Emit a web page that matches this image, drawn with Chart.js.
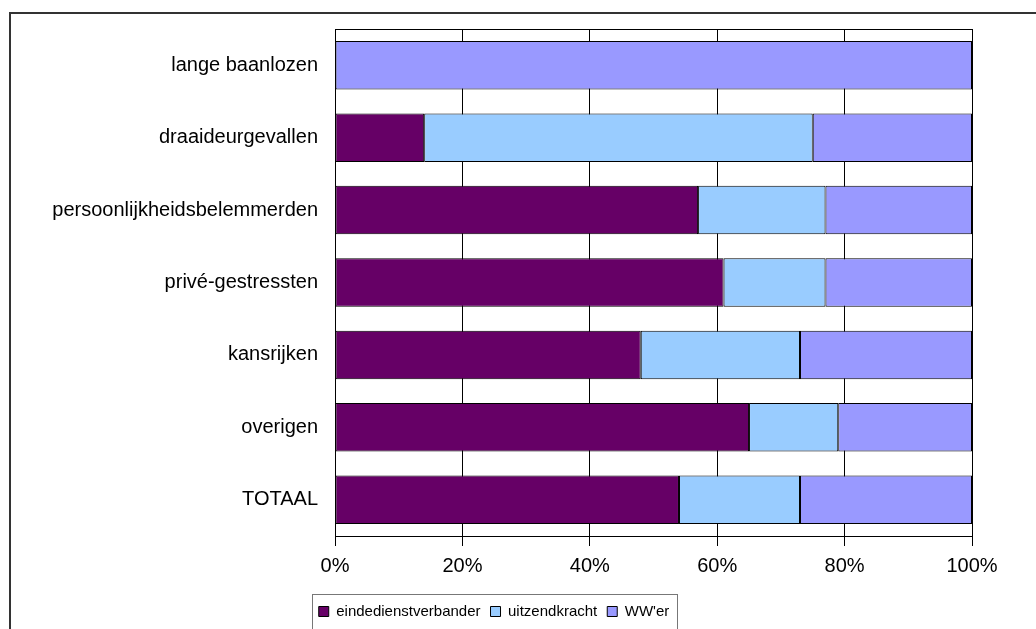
<!DOCTYPE html>
<html>
<head>
<meta charset="utf-8">
<script src="https://cdn.jsdelivr.net/npm/chart.js@4.4.1/dist/chart.umd.min.js"></script>
<style>
    html, body { margin: 0; padding: 0; background: #fff; overflow: hidden; }
    #frame { position: absolute; left: 9px; top: 12px; width: 1100px; height: 700px; border: 1px solid #333; border-width: 2px 0 0 2px; }
    #box { position: absolute; left: 0; top: 0; width: 1036px; height: 629px; }
</style>
</head>
<body>
<div id="frame"></div>
<div id="box"><canvas id="myGraph"></canvas></div>
<script>
// categorieën en aandelen (%)
const categorieen = ['lange baanlozen', 'draaideurgevallen', 'persoonlijkheidsbelemmerden', 'privé-gestressten', 'kansrijken', 'overigen', 'TOTAAL'];
const eindedienstverbander = [0, 14, 57, 61, 48, 65, 54];
const uitzendkracht = [0, 61, 20, 16, 25, 14, 19];
const wwer = [100, 25, 23, 23, 27, 21, 27];
const xTicks = [0, 20, 40, 60, 80, 100];

const fontName = "'Liberation Sans', Arial, sans-serif";

// rand om plotgebied en legenda
const randjes = {
    id: 'randjes',
    afterDraw(chart) {
        const ctx = chart.ctx;
        const a = chart.chartArea;
        ctx.save();
        ctx.strokeStyle = '#000';
        ctx.lineWidth = 1;
        ctx.strokeRect(Math.round(a.left) + 0.5, Math.round(a.top) + 0.5, Math.round(a.right - a.left), Math.round(a.bottom - a.top));
        const hb = chart.legend.legendHitBoxes;
        if (hb && hb.length) {
            let l = Math.min(...hb.map(h => h.left));
            let r = Math.max(...hb.map(h => h.left + h.width));
            ctx.strokeStyle = '#777';
            ctx.strokeRect(Math.round(l - 7) + 0.5, Math.round(chart.legend.top) + 0.5, Math.round(r - l + 14), 60);
        }
        ctx.restore();
    }
};

const ctx = document.getElementById('myGraph').getContext('2d');
let myGraph = new Chart(ctx, {
    type: 'bar',
    data: {
        labels: categorieen,
        datasets: [
            { label: 'eindedienstverbander', data: eindedienstverbander, backgroundColor: '#660066' },
            { label: 'uitzendkracht', data: uitzendkracht, backgroundColor: '#99CCFF' },
            { label: "WW'er", data: wwer, backgroundColor: '#9999FF' }
        ].map(d => Object.assign(d, {
            borderColor: '#000',
            borderWidth: 1,
            borderSkipped: false,
            barPercentage: 0.67,
            categoryPercentage: 1
        }))
    },
    options: {
        indexAxis: 'y',
        responsive: true,
        maintainAspectRatio: false,
        animation: false,
        layout: { padding: { left: 16, top: 29, right: 64, bottom: 0 } },
        scales: {
            x: {
                stacked: true,
                min: 0,
                max: 100,
                afterBuildTicks: s => { s.ticks = xTicks.map(v => ({ value: v })); },
                afterFit: s => { s.height = s.chart.height - 536 - s.chart.legend.height; },
                ticks: {
                    callback: v => v + '%',
                    color: '#000',
                    padding: 8,
                    maxRotation: 0,
                    font: { family: fontName, size: 20 }
                },
                grid: { color: '#000', lineWidth: 1, tickLength: 10 },
                border: { color: '#000' }
            },
            y: {
                stacked: true,
                afterFit: s => { s.width = 319; },
                ticks: {
                    color: '#000',
                    padding: 9,
                    font: { family: fontName, size: 20 }
                },
                grid: { display: false },
                border: { color: '#000' }
            }
        },
        plugins: {
            legend: {
                position: 'bottom',
                labels: {
                    boxWidth: 10,
                    boxHeight: 10,
                    padding: 10,
                    color: '#000',
                    font: { family: fontName, size: 15 },
                    generateLabels: chart => chart.data.datasets.map((d, i) => ({
                        text: d.label,
                        fillStyle: d.backgroundColor,
                        strokeStyle: '#000',
                        lineWidth: 1,
                        datasetIndex: i
                    }))
                }
            },
            tooltip: { enabled: false }
        }
    },
    plugins: [randjes]
});
</script>
</body>
</html>
